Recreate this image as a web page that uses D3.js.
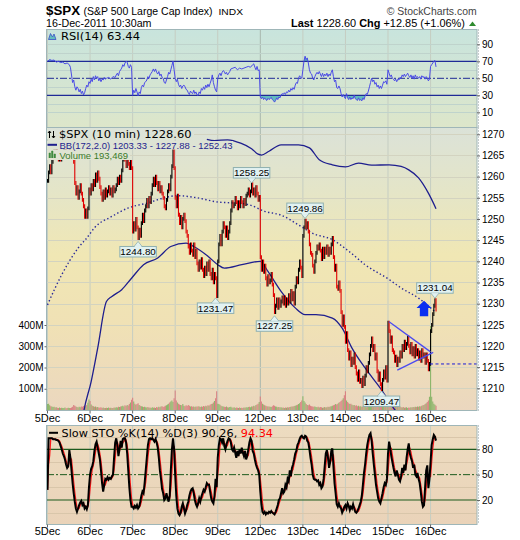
<!DOCTYPE html>
<html><head><meta charset="utf-8">
<script src="https://cdn.jsdelivr.net/npm/d3@7"></script>
<style>body{margin:0;background:#fff}svg{display:block}</style>
</head><body>
<svg id="c" width="520" height="540"></svg>
<script>
// ---------------- DATA ----------------
const dayLabels = ["5Dec","6Dec","7Dec","8Dec","9Dec","12Dec","13Dec","14Dec","15Dec","16Dec"];
const barsPerDay = 39;
const priceTicks = [1210,1215,1220,1225,1230,1235,1240,1245,1250,1255,1260,1265,1270];
const volTicks = [100,200,300,400];
const rsiTicks = [10,30,50,70,90];
const stoTicks = [20,50,80];

// 10-minute closes, one small array per session
const close5 = [1259,1261,1262.5,1261,1263.5,1265,1266,1265.5,1266.5,1265,1264,1264.5,1264,1265,1265.5,1266,1266.7,1265.5,1265,1265.5,1266,1265.5,1265,1264.5,1263.5,1258.5,1256,1257.5,1255,1256.5,1258,1256,1254.5,1253,1250.5,1252,1250.5,1252.5,1257];
const close6 = [1256,1258,1257,1259,1258,1260.5,1259,1261,1259.5,1257.5,1256,1254.5,1256.5,1255,1257,1255.5,1256.5,1257.5,1256,1257,1255.5,1257.5,1256.5,1257,1258,1259.5,1258.5,1260,1259,1261.5,1264,1265.5,1264,1262.5,1264,1263,1262,1263.5,1262];
const close7 = [1247,1249,1247.5,1250,1248,1245.5,1247.5,1246,1249,1251,1249.5,1252,1253,1254.5,1253,1255,1254,1256,1258,1259.5,1258,1260,1258.5,1257,1258.5,1256.5,1257.5,1256,1255,1253,1252.5,1254.5,1256.5,1258,1257,1260,1262.5,1266.5,1262];
const close8 = [1255,1253,1255.5,1251,1249,1250.5,1248,1250,1251,1249.5,1247,1246,1243.5,1242,1244,1242.5,1241.5,1244,1241,1242.5,1239.5,1238,1240,1238.5,1240.5,1238,1236.5,1238.5,1237,1239.5,1238,1240,1237,1236,1238,1235,1237,1236,1231.8];
const close9 = [1240,1244,1246,1244,1247,1249,1248,1246,1248,1245.5,1247,1249,1252,1254,1253,1253.5,1255,1254,1252.5,1254,1253,1255,1254,1253,1254.5,1253.5,1255.5,1256,1257,1255.5,1256.5,1258.2,1256,1257,1255.5,1257.5,1256,1254.5,1255.2];
const close12 = [1241,1238,1240,1237.5,1239,1236,1234.5,1236.5,1235,1235.5,1237,1234.5,1232,1228,1229.5,1231,1229,1231,1229.5,1230.5,1231.5,1230,1231.5,1229.5,1231,1230,1232,1230.5,1233,1231,1232.5,1230,1234,1236,1235,1238,1240,1238.5,1236.5];
const close13 = [1246,1248,1249.6,1248,1249,1247,1244,1242,1241.5,1239,1237.5,1240,1242,1243.5,1243,1244,1242.5,1240.5,1243,1241,1243,1242,1243.5,1241.5,1243,1242,1244,1245.5,1241,1238,1239,1234,1233.5,1235,1233,1228,1225,1227,1224.5];
const close14 = [1221,1223,1219,1217,1218.5,1215.5,1217,1216,1218,1215,1213.5,1212,1214,1211.5,1212,1210.5,1212.5,1211,1213,1215,1214,1216,1218,1220,1221.8,1219,1220,1217,1218,1214,1212,1213.5,1211,1209.8,1212,1214,1212.5,1215,1211.8];
const close15 = [1225.5,1223.5,1221,1222,1219,1218.5,1216.5,1217.5,1215.5,1217,1216.5,1218.5,1217.5,1220,1219,1221,1219.5,1220.5,1222,1220,1218.5,1220.5,1218,1219.5,1217.5,1220,1218,1219,1217,1218.5,1216.5,1219,1217.5,1218,1216,1218,1216.5,1214.5,1215.75];
const close16 = [1223.5,1225,1227.5,1229.5,1230.8,1228.6];

// volume (millions) per bar
const vol5 = [28,30,22,18,16,14,15,12,13,11,10,12,9,11,10,9,12,8,10,11,9,10,12,15,24,20,16,14,12,15,13,17,15,19,22,18,24,34,50];
const vol6 = [42,26,20,18,15,16,13,14,12,11,13,10,12,9,10,11,9,12,10,11,9,10,12,11,13,12,15,14,16,18,20,17,22,19,24,21,28,35,48];
const vol7 = [58,40,30,25,28,32,24,20,18,16,14,15,13,12,14,11,12,10,13,11,12,10,14,12,15,13,16,18,14,17,20,22,26,30,35,40,45,38,55];
const vol8 = [92,45,35,30,26,24,22,28,20,18,22,19,24,20,17,18,15,16,14,17,15,18,16,14,17,15,19,16,20,18,22,20,25,28,30,35,42,55,88];
const vol9 = [30,28,25,20,18,16,15,14,16,13,12,14,15,12,11,13,10,12,11,10,12,9,11,10,12,11,13,12,14,15,13,17,16,20,18,24,26,30,38];
const vol12 = [64,40,30,26,22,20,18,16,17,15,14,18,22,20,16,15,13,14,12,13,11,12,10,12,11,13,12,14,15,17,16,19,20,22,25,28,32,38,45];
const vol13 = [65,42,35,28,24,22,26,20,18,16,15,17,14,13,15,12,14,13,11,12,14,12,13,15,14,16,18,20,22,25,28,26,30,34,38,42,48,55,70];
const vol14 = [88,45,38,32,28,30,25,22,24,20,22,18,20,16,18,15,17,14,16,13,15,14,16,15,17,16,18,17,20,19,22,20,24,26,28,32,36,40,48];
const vol15 = [52,38,30,25,22,20,18,17,16,15,14,16,13,12,14,11,12,13,10,12,11,13,12,14,13,15,14,16,15,18,17,20,22,24,28,32,38,45,62];
const vol16 = [395,62,40,30,25,20];

// Bollinger Bands (172,2.0): [bar index, value]
const bbUpper = [[146,1268.8],[153,1268.5],[165,1268.7],[177,1267.9],[187,1266.6],[193,1265.3],[196,1265.1],[203,1266.0],[214,1267.5],[230,1267.5],[240,1266.8],[249,1264.0],[261,1262.8],[273,1262.3],[285,1263.2],[297,1262.7],[313,1262.8],[324,1262.4],[331,1261.6],[340,1259.7],[349,1256.1],[356,1252.43]];
const bbMiddle = [[0,1229.7],[7,1233.7],[13,1236.8],[20,1240.0],[28,1243.1],[36,1245.5],[43,1247.9],[59,1250.6],[74,1252.6],[92,1253.8],[107,1255.0],[119,1255.5],[137,1255.0],[156,1254.0],[169,1253.8],[184,1253.4],[199,1251.8],[214,1250.9],[230,1248.6],[242,1246.7],[261,1245.1],[276,1242.4],[291,1239.2],[313,1235.7],[324,1233.7],[340,1231.3],[356,1227.88]];
const bbLower = [[30,1199],[33,1204.2],[40,1211.6],[46,1219.5],[54,1230.5],[59,1231.7],[68,1233.3],[77,1236.0],[88,1239.2],[101,1240.8],[113,1243.5],[127,1244.3],[134,1243.5],[147,1241.2],[156,1239.2],[162,1238.4],[178,1239.2],[195,1240.0],[202,1237.6],[214,1232.9],[227,1229.0],[236,1227.4],[246,1227.4],[261,1226.6],[270,1224.2],[279,1219.5],[291,1214.8],[307,1209.3],[313,1206.9],[320,1204.5],[330,1203.8],[356,1203.33]];

// RSI(14): [bar index, value]
const rsiPoints = [[0,70],[2,72],[4,71],[6,71.5],[8,69],[10,70],[12,68.5],[14,69],[16,67],[18,68],[20,66],[21,63],[23,45],[24,48],[25,40],[26,36],[27,40],[28,38],[29,34],[30,37],[31,32],[32,35],[33,30.5],[34,33],[35,38],[36,42],[37,40],[38,46],[39,44],[40,49],[41,46],[42,52],[43,48],[44,53],[45,50],[46,52],[47,47],[48,50],[49,46],[50,49],[51,48],[52,51],[53,49],[54,50],[56,51],[58,49],[60,52],[62,51],[63,54],[64,56],[65,53],[66,58],[67,60],[68,62],[69,66],[70,64],[71,68],[72,70],[73,69],[74,64],[75,62],[76,66],[77,63],[78,30],[79,36],[80,33],[81,38],[82,34],[83,29.5],[84,34],[85,32],[86,39],[87,42],[88,40],[89,45],[90,46],[91,48],[92,52],[93,50],[94,54],[95,56],[96,58],[97,61],[98,58],[99,61],[100,57],[101,55],[102,58],[103,53],[104,55],[105,51],[106,50],[107,45],[108,44],[109,48],[110,52],[111,57],[112,55],[113,60],[114,65],[115,70],[116,60],[117,50],[118,46],[119,49],[120,43],[121,40],[122,42],[123,38],[124,41],[125,42],[126,40],[127,37],[128,36],[129,33],[130,31],[131,35],[132,33],[133,32],[134,36],[135,32],[136,34],[137,30.5],[138,30],[139,34],[140,32],[141,38],[142,36],[143,40],[144,37],[145,42],[146,39],[147,43],[148,40],[149,44],[150,48],[151,54],[152,45],[153,40],[154,36],[155,34],[156,50],[157,54],[158,56],[159,53],[160,57],[161,59],[162,58],[163,55],[164,57],[165,54],[166,56],[167,58],[168,61],[170,62],[172,63],[174,60],[176,62],[178,61],[180,62],[182,63],[184,64],[186,63],[188,66],[189,67],[190,63],[191,60],[192,64],[193,59],[194,60],[195,28],[196,26],[197,28],[198,25],[199,27],[200,25],[201,24],[202,26.5],[203,25],[204,26],[205,27.5],[206,25],[207,24],[208,22],[209,24],[210,27],[211,25],[212,28],[213,27],[214,30],[215,32],[216,31],[217,33],[218,31],[219,34],[220,33],[221,36],[222,34],[223,38],[224,36],[225,39],[226,37],[227,42],[228,45],[229,44],[230,50],[231,53],[232,51],[233,50],[234,60],[235,70],[236,76],[237,72],[238,74],[239,68],[240,60],[241,56],[242,55],[243,50],[244,48],[245,52],[246,55],[247,57],[248,55],[249,58],[250,55],[251,52],[252,56],[253,52],[254,55],[255,53],[256,56],[257,52],[258,55],[259,53],[260,57],[261,60],[262,52],[263,46],[264,48],[265,39],[266,38],[267,41],[268,38],[269,32],[270,28],[271,31],[272,28],[273,26],[274,32],[275,27],[276,25],[277,28],[278,25],[279,27],[280,26],[281,30],[282,26],[283,25],[284,24],[285,27],[286,24],[287,25],[288,23.5],[289,27],[290,25],[291,29],[292,32],[293,31],[294,35],[295,40],[296,45],[297,50],[298,46],[299,48],[300,43],[301,45],[302,40],[303,42],[304,38],[305,41],[306,38],[307,42],[308,46],[309,45],[310,47],[311,43],[312,60],[313,56],[314,52],[315,54],[316,50],[317,49],[318,47],[319,49],[320,46],[321,49],[322,48],[323,51],[324,50],[325,54],[326,52],[327,55],[328,52],[329,54],[330,56],[331,53],[332,51],[333,54],[334,50],[335,53],[336,49],[337,54],[338,51],[339,52],[340,50],[341,52],[342,49],[343,53],[344,51],[345,52],[346,49],[347,52],[348,50],[349,47],[350,49],[351,64],[352,66],[353,68],[354,70],[355,71],[356,63.44]];

// Slow STO %K(14) per bar
const stoK5 = [32,93,93,93,93,92,92,92,91,91,90,88,84,80,75,72,68,62,58,60,79,70,55,40,28,18,10,6,10,14,17,19,14,16,10,12,9,14,35];
const stoK6 = [50,57,60,66,78,86,89,82,75,68,55,40,30,38,45,44,47,44,46,45,48,50,70,88,93,85,72,80,90,82,92,93,93,88,75,55,35,20,12];
const stoK7 = [12,10,13,11,14,10,12,18,25,30,28,40,55,70,85,92,93,92,93,91,89,92,88,82,70,55,45,33,28,20,22,28,22,18,25,55,80,93,80];
const stoK8 = [50,25,10,4,2,5,12,16,10,4,8,14,18,25,30,33,34,28,20,15,12,16,22,18,24,28,32,30,35,40,38,38,30,22,18,16,25,45,35];
const stoK9 = [70,85,93,92,88,93,84,80,86,90,93,92,88,80,78,82,76,70,78,72,80,75,82,76,72,78,68,72,80,88,93,90,78,75,68,62,58,55,50];
const stoK12 = [30,15,6,4,6,3,5,4,6,5,7,5,4,3,6,10,14,20,22,28,34,28,30,38,35,45,42,55,48,58,62,68,75,78,85,88,92,95,96];
const stoK13 = [94,93,96,95,90,88,80,70,62,50,45,44,44,42,43,38,40,34,36,45,60,75,79,70,58,65,78,81,60,40,28,15,12,16,12,10,5,8,12];
const stoK14 = [14,10,16,13,8,12,10,15,10,6,5,7,10,14,18,25,38,52,62,75,85,92,97,99,90,75,62,50,38,30,22,18,16,22,28,35,40,38,45];
const stoK15 = [75,89,82,72,65,58,52,48,55,50,44,42,48,58,52,62,55,70,80,87,75,70,66,58,62,50,48,52,45,40,30,18,12,14,35,55,61,34,45];
const stoK16 = [65,85,92,97,95,90.26];
// Slow STO %D(3) per bar
const stoD5 = [32,62,73,93,93,93,92,92,92,91,91,90,87,84,80,76,72,67,63,60,66,70,68,55,41,29,19,11,9,10,14,17,17,16,13,13,10,12,19];
const stoD6 = [33,47,56,61,68,77,84,86,82,75,66,54,42,36,38,42,45,45,46,45,46,48,56,69,84,89,83,79,81,84,88,89,93,91,85,73,55,37,22];
const stoD7 = [15,11,12,11,13,12,12,13,18,24,28,33,41,55,70,82,90,92,93,92,91,91,90,87,80,69,57,44,35,27,23,23,24,23,22,33,53,76,84];
const stoD8 = [74,52,28,13,5,4,6,11,13,10,7,9,13,19,24,29,32,32,27,21,16,14,17,19,21,23,28,30,32,35,38,39,35,30,23,19,20,29,35];
const stoD9 = [50,63,83,90,91,91,88,86,83,85,90,92,91,87,82,80,79,76,75,73,77,76,79,78,77,75,73,71,73,80,87,90,87,81,74,68,62,58,54];
const stoD12 = [45,32,17,8,5,4,5,4,5,5,6,6,5,4,4,6,10,15,19,23,28,30,31,32,34,39,41,47,48,54,56,63,68,74,80,84,88,92,94];
const stoD13 = [95,94,94,95,94,91,86,79,71,61,52,46,44,43,43,41,40,37,37,38,47,60,71,75,69,64,67,75,73,60,43,28,18,14,13,13,9,8,8];
const stoD14 = [11,12,13,13,12,11,10,12,12,10,7,6,7,10,14,19,27,38,51,63,74,84,91,96,95,88,76,62,50,39,30,23,19,19,22,28,34,38,41];
const stoD15 = [53,70,82,81,73,65,58,53,52,51,50,45,45,49,53,57,56,62,68,79,81,77,70,65,62,57,53,50,48,46,38,29,20,15,20,35,50,50,47];
const stoD16 = [48,65,81,91,95,94.34];

// annotations
const calloutIdx = [83,187,236,154,208,306,355];
const calloutVal = [1244.80,1258.25,1249.86,1231.47,1227.25,1209.47,1231.04];
const calloutDir = ["below","above","above","below","below","below","above"];
const triUpper = [[313,1225.7],[351,1218.6]];
const triLower = [[320.5,1214.3],[353.4,1218.5]];
const prevClose = 1215.75;
const prevCloseFrom = 350.5;
const arrowIdx = 345, arrowTip = 1230.7, arrowBase = 1227.0;

// ---------------- BUILD ----------------
const closes = [].concat(close5,close6,close7,close8,close9,close12,close13,close14,close15,close16);
const volumes = [].concat(vol5,vol6,vol7,vol8,vol9,vol12,vol13,vol14,vol15,vol16);
const stoK = [].concat(stoK5,stoK6,stoK7,stoK8,stoK9,stoK12,stoK13,stoK14,stoK15,stoK16);
const stoD = [].concat(stoD5,stoD6,stoD7,stoD8,stoD9,stoD12,stoD13,stoD14,stoD15,stoD16);

const FS = "'Liberation Sans', Arial, sans-serif";
const FD = "'DejaVu Sans', Verdana, sans-serif";
const L = 47, R = 477;
const P = {rsi:{t:29.5,b:127.5}, main:{t:127.5,b:410.5}, sto:{t:425.5,b:524.5}};

const x = d3.scaleLinear().domain([0,394]).range([L,R]);
const yR = d3.scaleLinear().domain([0,100]).range([120.8,35.8]);
const yP = d3.scaleLinear().domain([1210,1270]).range([388.3,134.3]);
const yV = d3.scaleLinear().domain([0,400]).range([410,325]);
const yS = d3.scaleLinear().domain([0,100]).range([516.9,432.4]);
const dayStarts = dayLabels.map((d,k)=>k*barsPerDay);
const xb = i => x(i)+0.5;

const svg = d3.select("#c");
const defs = svg.append("defs");
function grad(id,y1,y2,stops){
  const g = defs.append("linearGradient").attr("id",id).attr("gradientUnits","userSpaceOnUse")
    .attr("x1",0).attr("x2",0).attr("y1",y1).attr("y2",y2);
  stops.forEach(([o,c])=>g.append("stop").attr("offset",o).attr("stop-color",c));
}
grad("gRsi",P.rsi.t,P.rsi.b,[[0,"#c8e4dd"],[1,"#dde6ca"]]);
grad("gMain",P.main.t,P.main.b,[[0,"#dbe2d8"],[0.22,"#e4e5c8"],[0.45,"#f0e7b4"],[0.7,"#f0e1b5"],[1,"#ebd7bf"]]);
grad("gSto",P.sto.t,P.sto.b,[[0,"#eddcc0"],[1,"#ead3b9"]]);
function clip(id,y0,y1){ defs.append("clipPath").attr("id",id).append("rect").attr("x",L).attr("y",y0).attr("width",R-L).attr("height",y1-y0); }
clip("cRsi",P.rsi.t,P.rsi.b); clip("cMain",P.main.t,P.main.b); clip("cSto",P.sto.t,P.sto.b);
clip("cRsiHi",P.rsi.t,yR(70)); clip("cRsiLo",yR(30),P.rsi.b);

// text helper: fixed width to match the reference's text extents
function txt(xp,yp,str,size,opts={}){
  const t = svg.append("text").attr("x",xp).attr("y",yp).attr("font-family",opts.font||FS).attr("font-size",size);
  if(opts.bold) t.attr("font-weight","bold");
  if(opts.fill) t.attr("fill",opts.fill);
  if(opts.anchor) t.attr("text-anchor",opts.anchor);
  if(str!==null) t.text(str);
  if(opts.width) t.attr("textLength",opts.width).attr("lengthAdjust","spacingAndGlyphs");
  return t;
}

function panelBg(p,fill){
  svg.append("rect").attr("x",L).attr("y",p.t).attr("width",R-L).attr("height",p.b-p.t).attr("fill",fill);
}
function vGrid(p){
  const g = svg.append("g");
  dayStarts.forEach((d,k)=>{
    g.append("line").attr("x1",x(d)+0.5).attr("x2",x(d)+0.5).attr("y1",p.t).attr("y2",p.b)
     .attr("stroke", k===5 ? "#a9b7ad" : "#c5cdc2").attr("stroke-width",1);
  });
}
function hGrid(vals,scale,color){
  const g = svg.append("g");
  vals.forEach(v=>{ const y=Math.round(scale(v))+0.5;
    g.append("line").attr("x1",L).attr("x2",R).attr("y1",y).attr("y2",y).attr("stroke",color).attr("stroke-width",1); });
}
function border(p){
  svg.append("rect").attr("x",L-0.5).attr("y",p.t).attr("width",R-L+0.5).attr("height",p.b-p.t)
    .attr("fill","none").attr("stroke","#9fb6b8").attr("stroke-width",1);
  svg.append("line").attr("x1",R+1.5).attr("x2",R+1.5).attr("y1",p.t).attr("y2",p.b)
    .attr("stroke","#8a9a9a").attr("stroke-width",1).attr("stroke-dasharray","1,2");
}
function styleAxis(g,size){
  g.select(".domain").remove();
  g.selectAll(".tick line").attr("stroke","#666");
  g.selectAll("text").attr("font-family",FS).attr("font-size",size).attr("fill","#000");
}

// ---------- Header ----------
txt(46,15,"$SPX",13,{bold:true,width:34});
txt(83.5,15,"(S&P 500 Large Cap Index)",10.4,{width:129});
txt(218.5,15,"INDX",9.8,{width:24.5});
txt(386.7,14.5,"© StockCharts.com",10.3,{fill:"#444",width:90});
txt(46,27.3,"16-Dec-2011 10:30am",10.5,{width:105.5});
const lastT = txt(291,27.3,null,10.5,{});
lastT.append("tspan").attr("font-weight","bold").text("Last");
lastT.append("tspan").text(" 1228.60  ");
lastT.append("tspan").attr("font-weight","bold").text("Chg");
lastT.append("tspan").text(" +12.85 (+1.06%)");
lastT.attr("textLength",174).attr("lengthAdjust","spacingAndGlyphs");
svg.append("path").attr("d","M469,26 L472.5,21.5 L476,26 Z").attr("fill","#2e8b2e");

// ---------- RSI panel ----------
panelBg(P.rsi,"url(#gRsi)");
vGrid(P.rsi);
hGrid([10,20,40,60,80,90],yR,"#bfd3cc");
const rsiLine = d3.line().x(d=>xb(d[0])).y(d=>yR(d[1]));
svg.append("path").datum(rsiPoints).attr("clip-path","url(#cRsiHi)")
  .attr("d",d3.area().x(d=>xb(d[0])).y0(yR(70)).y1(d=>yR(d[1]))).attr("fill","#62bdbd");
svg.append("path").datum(rsiPoints).attr("clip-path","url(#cRsiLo)")
  .attr("d",d3.area().x(d=>xb(d[0])).y0(yR(30)).y1(d=>yR(d[1]))).attr("fill","#62bdbd");
[70,30].forEach(v=>svg.append("line").attr("x1",L).attr("x2",R).attr("y1",yR(v)).attr("y2",yR(v)).attr("stroke","#1f2a96").attr("stroke-width",1.2));
svg.append("line").attr("x1",L).attr("x2",R).attr("y1",yR(50)).attr("y2",yR(50)).attr("stroke","#1f2a96").attr("stroke-width",1).attr("stroke-dasharray","7,2,2,2");
svg.append("path").datum(rsiPoints).attr("clip-path","url(#cRsi)").attr("d",rsiLine).attr("fill","none").attr("stroke","#4a4ae6").attr("stroke-width",1);
border(P.rsi);
styleAxis(svg.append("g").attr("transform",`translate(${R},0)`).call(d3.axisRight(yR).tickValues(rsiTicks).tickSize(3).tickPadding(2)),10);
// legend
svg.append("path").attr("d","M48.5,39.5 L50.5,33.5 L52.5,37 L54,34 L56,39.5 Z").attr("fill","#62bdbd").attr("stroke","#3a4fc8").attr("stroke-width",0.8);
txt(61,40,"RSI(14) 63.44",11,{font:FD,width:79});

// ---------- Main panel ----------
panelBg(P.main,"url(#gMain)");
vGrid(P.main);
hGrid(priceTicks,yP,"#d3d3c0");
const gm = svg.append("g").attr("clip-path","url(#cMain)");
// volume
gm.append("g").selectAll("line").data(volumes).join("line")
  .attr("x1",(d,i)=>xb(i)).attr("x2",(d,i)=>xb(i)).attr("y1",yV(0)).attr("y2",d=>yV(d))
  .attr("stroke",(d,i)=> (i>0 && closes[i]<closes[i-1]) ? "#d98383" : "#8db66b").attr("stroke-width",1.1);
// bollinger bands
const bbLine = d3.line().x(d=>xb(d[0])).y(d=>yP(d[1])).curve(d3.curveMonotoneX);
gm.append("path").datum(bbUpper).attr("d",bbLine).attr("fill","none").attr("stroke","#1e1e8e").attr("stroke-width",1.3);
gm.append("path").datum(bbLower).attr("d",bbLine).attr("fill","none").attr("stroke","#1e1e8e").attr("stroke-width",1.3);
gm.append("path").datum(bbMiddle).attr("d",bbLine).attr("fill","none").attr("stroke","#2a2a9a").attr("stroke-width",1.4).attr("stroke-dasharray","1.4,2.4");
// price bars
const pad = 0.45;
gm.append("g").selectAll("line").data(closes).join("line")
  .attr("x1",(d,i)=>xb(i)).attr("x2",(d,i)=>xb(i))
  .attr("y1",(d,i)=>{ const p = i>0?closes[i-1]:d; return yP(Math.max(p,d)+pad); })
  .attr("y2",(d,i)=>{ const p = i>0?closes[i-1]:d; return yP(Math.min(p,d)-pad); })
  .attr("stroke",(d,i)=> (i>0 && d<closes[i-1]) ? "#e00000" : "#000").attr("stroke-width",1.1);
// previous close dashed
gm.append("line").attr("x1",xb(prevCloseFrom)).attr("x2",R).attr("y1",yP(prevClose)).attr("y2",yP(prevClose))
  .attr("stroke","#1a1ad6").attr("stroke-width",1).attr("stroke-dasharray","3,2.5");
// triangle trendlines
const tl = d3.line().x(d=>xb(d[0])).y(d=>yP(d[1]));
[triUpper,triLower].forEach(t=>gm.append("path").datum(t).attr("d",tl).attr("stroke","#4a4af0").attr("stroke-width",1.3).attr("fill","none"));
// arrow
(function(){
  const cx = xb(arrowIdx), ty = yP(arrowTip), by = yP(arrowBase), hy = ty+7.3;
  gm.append("path").attr("d",`M${cx},${ty} L${cx+7.5},${hy} L${cx+4.2},${hy} L${cx+4.2},${by} L${cx-4.2},${by} L${cx-4.2},${hy} L${cx-7.5},${hy} Z`).attr("fill","#0b2ff0");
})();
// callouts
calloutIdx.forEach((idx,k)=>{
  const v = calloutVal[k], cx = xb(idx), up = calloutDir[k]==="above";
  const tip = up ? yP(v)-1 : yP(v)+0.5;
  const bw = 36.5, bh = 10.5;
  const by = up ? tip-5-bh : tip+5;
  const g = svg.append("g");
  g.append("rect").attr("x",cx-bw/2).attr("y",by).attr("width",bw).attr("height",bh).attr("fill","#e2f2f2").attr("stroke","#8fb0b0").attr("stroke-width",1);
  const base = up ? by+bh : by;
  g.append("path").attr("d",`M${cx-4},${base} L${cx},${tip} L${cx+4},${base} Z`).attr("fill","#e2f2f2").attr("stroke","#8fb0b0").attr("stroke-width",0.8);
  g.append("line").attr("x1",cx-3.3).attr("x2",cx+3.3).attr("y1",base).attr("y2",base).attr("stroke","#e2f2f2").attr("stroke-width",1.2);
  g.append("text").attr("x",cx).attr("y",by+bh-1.8).attr("text-anchor","middle").attr("font-family",FS).attr("font-size",9.8).text(v.toFixed(2));
});
// legend backgrounds + text
[[128,139,194],[141,149.5,233],[149.5,160,130]].forEach(([y0,y1,x1])=>
  svg.append("rect").attr("x",L).attr("y",y0).attr("width",x1-L).attr("height",y1-y0).attr("fill","url(#gMain)"));
svg.append("path").attr("d","M49.5,131 V138 M48,133 L49.5,131 L51,133 M53.5,131 V138 M52,136 L53.5,138 L55,136").attr("stroke","#000").attr("stroke-width",1).attr("fill","none");
txt(59,137.8,"$SPX (10 min) 1228.60",10.5,{font:FD,width:132.5});
svg.append("line").attr("x1",47.5).attr("x2",57).attr("y1",144.8).attr("y2",144.8).attr("stroke","#1e1e8e").attr("stroke-width",2);
txt(59.5,148.5,"BB(172,2.0) 1203.33 - 1227.88 - 1252.43",9.6,{fill:"#1e1e8e",width:173});
svg.append("path").attr("d","M49,158 V153 H50.5 V158 M51.5,158 V151 H53 V158 M54,158 V154 H55.5 V158").attr("fill","#3f8a3f").attr("stroke","#3f8a3f").attr("stroke-width",0.5);
txt(59.5,158.5,"Volume 193,469",9.8,{fill:"#3a7a2a",width:68.5});
border(P.main);
styleAxis(svg.append("g").attr("transform",`translate(${R},0)`).call(d3.axisRight(yP).tickValues(priceTicks).tickFormat(d3.format("d")).tickSize(3).tickPadding(2)),10);
styleAxis(svg.append("g").attr("transform",`translate(${L-0.5},0)`).call(d3.axisLeft(yV).tickValues(volTicks).tickFormat(d=>d+"M").tickSize(2).tickPadding(1)),10);
styleAxis(svg.append("g").attr("transform",`translate(0,${P.main.b})`).call(d3.axisBottom(x).tickValues(dayStarts).tickFormat((d,i)=>dayLabels[i]).tickSize(3).tickPadding(1)),11);

// ---------- STO panel ----------
panelBg(P.sto,"url(#gSto)");
vGrid(P.sto);
hGrid([5,35,65,95],yS,"#d9c6aa");
[80,20].forEach(v=>svg.append("line").attr("x1",L).attr("x2",R).attr("y1",yS(v)).attr("y2",yS(v)).attr("stroke","#1d5a1d").attr("stroke-width",1.2));
svg.append("line").attr("x1",L).attr("x2",R).attr("y1",yS(50)).attr("y2",yS(50)).attr("stroke","#1d5a1d").attr("stroke-width",1).attr("stroke-dasharray","7,2,2,2");
const gs = svg.append("g").attr("clip-path","url(#cSto)");
const sl = d3.line().x((d,i)=>xb(i)).y(d=>yS(d));
gs.append("path").datum(stoD).attr("d",sl).attr("fill","none").attr("stroke","#ff1a1a").attr("stroke-width",1.3);
gs.append("path").datum(stoK).attr("d",sl).attr("fill","none").attr("stroke","#000").attr("stroke-width",2);
border(P.sto);
styleAxis(svg.append("g").attr("transform",`translate(${R},0)`).call(d3.axisRight(yS).tickValues(stoTicks).tickSize(3).tickPadding(2)),10);
styleAxis(svg.append("g").attr("transform",`translate(0,${P.sto.b})`).call(d3.axisBottom(x).tickValues(dayStarts).tickFormat((d,i)=>dayLabels[i]).tickSize(3).tickPadding(0)),11);
svg.append("line").attr("x1",49).attr("x2",58).attr("y1",432.8).attr("y2",432.8).attr("stroke","#000").attr("stroke-width",2);
const stoT = txt(61.5,436.5,null,11,{font:FD});
stoT.append("tspan").text("Slow STO %K(14) %D(3) 90.26, ");
stoT.append("tspan").attr("fill","#ff0000").text("94.34");
stoT.attr("textLength",211.5).attr("lengthAdjust","spacingAndGlyphs");
</script>
</body></html>
